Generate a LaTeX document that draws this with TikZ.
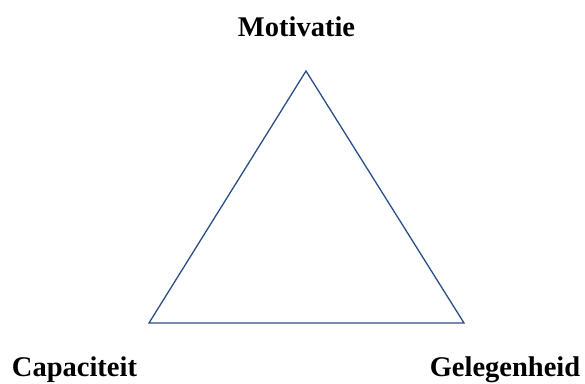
\documentclass[tikz,border=0pt]{standalone}
\usepackage{fontspec}
\setmainfont{Liberation Serif}
\definecolor{tri}{HTML}{2A4F86}
\begin{document}
\begin{tikzpicture}[x=1pt,y=1pt,
  lbl/.style={font=\bfseries\fontsize{28.5}{32}\selectfont, inner sep=0pt, anchor=base},
  edge/.style={draw=tri, line width=1.3pt, line join=miter}]
\useasboundingbox (0,0) rectangle (585,383);
\coordinate (top) at (306,312);
\coordinate (bl) at (149,60);
\coordinate (br) at (464,60);
\draw[edge] (top) -- (bl) -- (br) -- cycle;
\node[lbl] (m) at (296.5,346) {Motivatie};
\node[lbl] (c) at (74.5,7) {Capaciteit};
\node[lbl] (g) at (505,7) {Gelegenheid};
\end{tikzpicture}
\end{document}
